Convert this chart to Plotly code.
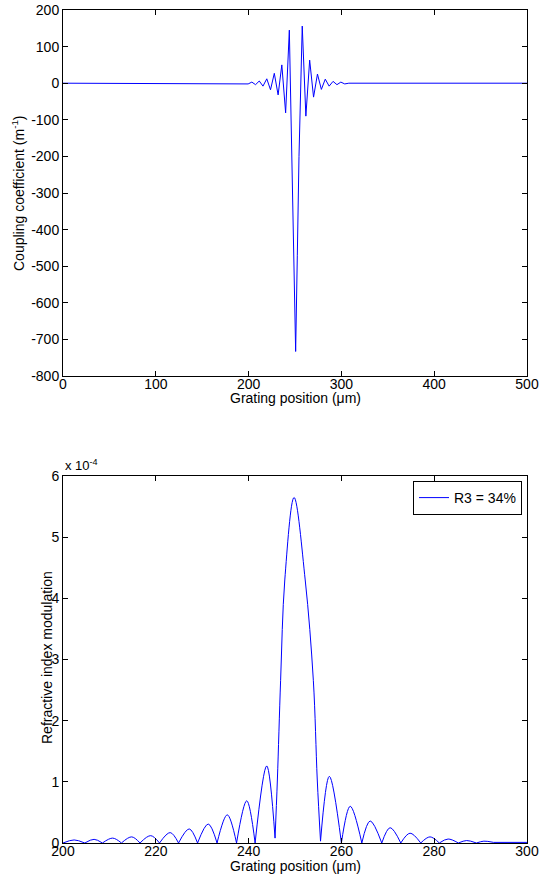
import plotly.graph_objects as go

# ---------------- data ----------------
# Top panel: coupling coefficient (m^-1) vs grating position (um)
kappa_pos = [0, 196, 199.5, 203.5, 207.5, 211.5, 215.5, 219.6, 223.6, 227.7, 231.8,
             235.8, 239.9, 243.9, 246.8, 248.9, 250.7, 252.5, 254.3, 257.8, 261.7,
             265.8, 270.0, 274.2, 278.4, 282.6, 286.8, 291.0, 295.2, 299.4, 303.6,
             308, 500]
kappa_val = [0, 0, -2, 3, -4, 6, -8, 12, -18, 27, -32,
             50, -81, 145, -210, -483, -733, -470, -200, 156, -90,
             63, -38, 25, -17, 11, -8, 5, -4, 3, -2,
             0, 0]

# Bottom panel: refractive index modulation (x 1e-4) vs grating position (um)
dn_pos = [200.0, 202.4, 204.7, 206.7, 208.5, 210.7, 212.6, 214.8, 216.6, 218.9,
          220.8, 223.1, 224.9, 227.2, 229.0, 231.3, 233.2, 235.4, 237.4, 239.6,
          241.4, 243.9, 245.7, 246.2, 246.9, 247.8, 249.8, 252.2,
          253.95, 254.8, 255.5, 257.4, 260.0, 261.9, 264.4, 266.2, 268.7, 270.5,
          272.8, 274.8, 277.1, 279.1, 281.1, 283.0, 285.2, 287.0, 289.1, 290.7,
          292.8, 300.0]
dn_val = [0.0, 0.05, 0.0, 0.06, 0.0, 0.08, 0.0, 0.10, 0.0, 0.12,
          0.0, 0.17, 0.0, 0.23, 0.0, 0.31, 0.0, 0.46, 0.0, 0.69,
          0.0, 1.26, 0.08, 1.03, 2.66, 4.30, 5.65, 4.30,
          2.66, 1.03, 0.03, 1.09, 0.0, 0.60, 0.0, 0.36, 0.0, 0.25,
          0.0, 0.16, 0.0, 0.10, 0.0, 0.065, 0.0, 0.04, 0.0, 0.03,
          0.01, 0.01]

top_xticks = [0, 100, 200, 300, 400, 500]
top_yticks = [-800, -700, -600, -500, -400, -300, -200, -100, 0, 100, 200]
bot_xticks = [200, 220, 240, 260, 280, 300]
bot_yticks = [0, 1, 2, 3, 4, 5, 6]
legend_label = "R3 = 34%"
x_title = "Grating position (μm)"
top_y_title = "Coupling coefficient (m<sup>-1</sup>)"
bot_y_title = "Refractive index modulation"


def split_arches(xs, ys):
    """Break the |modulation| curve at its cusps so each lobe is smoothed on its own."""
    X, Y = [], []
    n = len(xs)
    for i in range(n):
        X.append(xs[i]); Y.append(ys[i])
        if 0 < i < n - 1 and ys[i] <= ys[i - 1] and ys[i] <= ys[i + 1]:
            X += [None, xs[i]]
            Y += [None, ys[i]]
    return X, Y


def labels(vals):
    return [str(v) for v in vals]  # plain hyphen-minus like the reference


W, H = 540, 881
FONT = "Liberation Sans, Arial, sans-serif"
FS = 14
BLUE = "#0000ff"

fig = go.Figure()

fig.add_trace(go.Scatter(x=kappa_pos, y=kappa_val, mode="lines",
                         line=dict(color=BLUE, width=1), showlegend=False,
                         xaxis="x", yaxis="y"))

bx, by = split_arches(dn_pos, dn_val)
fig.add_trace(go.Scatter(x=bx, y=by, mode="lines", connectgaps=False,
                         line=dict(color=BLUE, width=1, shape="spline", smoothing=1),
                         name=legend_label, showlegend=True,
                         xaxis="x2", yaxis="y2"))

axis_common = dict(showline=True, linecolor="black", linewidth=1, mirror="ticks",
                   ticks="inside", ticklen=5, tickcolor="black", tickwidth=1,
                   showgrid=False, zeroline=False, automargin=False,
                   tickfont=dict(family=FONT, size=FS, color="black"))

x0, x1 = 63 / W, 527 / W
top_dom = [1 - 376 / H, 1 - 10 / H]
bot_dom = [1 - 843 / H, 1 - 476 / H]


def txt(text, x, y, xanchor="center", yanchor="middle", angle=0, size=FS):
    return dict(text=text, x=x, xref="paper", xanchor=xanchor, y=y, yref="paper",
                yanchor=yanchor, showarrow=False, textangle=angle,
                font=dict(family=FONT, size=size, color="black"))


fig.update_layout(
    width=W, height=H, autosize=False,
    margin=dict(l=0, r=0, t=0, b=0, autoexpand=False),
    paper_bgcolor="white", plot_bgcolor="white",
    font=dict(family=FONT, size=FS, color="black"),
    xaxis=dict(domain=[x0, x1], range=[0, 500], tickvals=top_xticks,
               ticktext=labels(top_xticks), anchor="y", ticklabelstandoff=-5,
               **axis_common),
    yaxis=dict(domain=top_dom, range=[-800, 200], tickvals=top_yticks,
               ticktext=labels(top_yticks), anchor="x", **axis_common),
    xaxis2=dict(domain=[x0, x1], range=[200, 300], tickvals=bot_xticks,
                ticktext=labels(bot_xticks), anchor="y2", ticklabelstandoff=-5,
                **axis_common),
    yaxis2=dict(domain=bot_dom, range=[0, 6], tickvals=bot_yticks,
                ticktext=labels(bot_yticks), anchor="x2", **axis_common),
    legend=dict(x=522 / W, xanchor="right", y=1 - 481 / H, yanchor="top",
                bgcolor="white", bordercolor="black", borderwidth=1,
                font=dict(family=FONT, size=FS, color="black"),
                tracegroupgap=0, itemwidth=30),
    annotations=[
        txt("x 10<sup>-4</sup>", x0, 1 - 475 / H, xanchor="left", yanchor="bottom",
            size=FS - 1),
        txt(x_title, (x0 + x1) / 2, 1 - 398 / H),
        txt(x_title, (x0 + x1) / 2, 1 - 866 / H),
        txt(top_y_title, 18 / W, (top_dom[0] + top_dom[1]) / 2, angle=-90),
        txt(bot_y_title, 47 / W, 1 - 658 / H, angle=-90),
    ],
)

fig.write_html("out.html")
